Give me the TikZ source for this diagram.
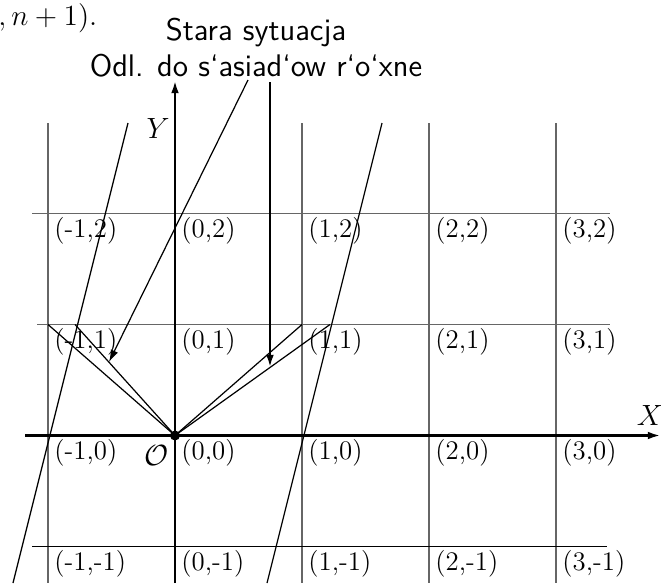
\documentclass[tikz,border=0pt]{standalone}
\usetikzlibrary{arrows.meta}
\begin{document}
\begin{tikzpicture}[x=0.41pt,y=-0.41pt,
  gridline/.style={draw=black!60,line width=0.55pt},
  axisline/.style={draw=black,line width=0.85pt,-{Latex[length=5pt,width=3.2pt]}},
  fineline/.style={draw=black,line width=0.5pt},
  pointer/.style={draw=black,line width=0.5pt,-{Latex[length=5pt,width=3.2pt]}},
  boldpointer/.style={draw=black,line width=0.85pt,-{Latex[length=5pt,width=3.2pt]}},
  lbl/.style={anchor=north west,inner sep=0pt,font=\fontsize{11}{13}\selectfont},
  sanstext/.style={font=\sffamily\fontsize{12.8}{15}\selectfont,inner sep=0pt,anchor=base},
  axlabel/.style={inner sep=0pt,font=\fontsize{12}{14}\selectfont}
]
\useasboundingbox (0,0) rectangle (661,583);

% named points
\coordinate (O) at (175,435.5);
\coordinate (Vl1) at (48,324.5);
\coordinate (Vl2) at (75,324.5);
\coordinate (Vr1) at (302,324.5);
\coordinate (Vr2) at (330,324.5);

% grid: vertical lines
\foreach \gx in {48,302,429,556}{
  \draw[gridline] (\gx,123) -- (\gx,583);
}
% grid: horizontal lines
\draw[gridline] (32,213.5) -- (610,213.5);
\draw[gridline] (37,324.5) -- (610,324.5);
\draw[black,line width=0.55pt] (32,546.5) -- (607,546.5);

% slanted lines
\draw[fineline] (128,123) -- (13,583);
\draw[fineline] (382,123) -- (267,583);

% axes
\coordinate (Xs) at (25,435.5);
\coordinate (Xe) at (660,435.5);
\coordinate (Ys) at (175,583);
\coordinate (Ye) at (175,81);
\draw[axisline] (Xs) -- (Xe);
\draw[axisline] (Ys) -- (Ye);

% V lines
\draw[fineline] (O) -- (Vl1);
\draw[fineline] (O) -- (Vl2);
\draw[fineline] (O) -- (Vr1);
\draw[fineline] (O) -- (Vr2);

% origin dot
\fill (O) circle (5);

% texts
\node[anchor=base west,inner sep=0pt,font=\fontsize{12.2}{14}\selectfont] (prev) at (-2,25) {$,n+1)$.};
\node[sanstext] (t1) at (256,40) {Stara sytuacja};
\node[sanstext] (t2) at (256,76) {Odl. do s‘asiad‘ow r‘o‘xne};

% pointers
\coordinate (P1s) at (248,80);
\coordinate (P1e) at (109,362);
\coordinate (P2s) at (270,82);
\coordinate (P2e) at (270,367);
\draw[pointer] (P1s) -- (P1e);
\draw[boldpointer] (P2s) -- (P2e);

% axis labels
\node[axlabel] (Xl) at (650,415) {$X$};
\node[axlabel] (Yl) at (158,128) {$Y$};
\node[axlabel] (Ol) at (157,455) {$\mathcal{O}$};

% coordinate labels
\foreach \i/\gx in {-1/48,0/175,1/302,2/429,3/556}{
  \foreach \j/\gy in {2/213.5,1/324.5,0/435.5,-1/546.5}{
    \node[lbl] (c\i\j) at (\gx+6,\gy+3) {(\i,\j)};
  }
}
\end{tikzpicture}
\end{document}
